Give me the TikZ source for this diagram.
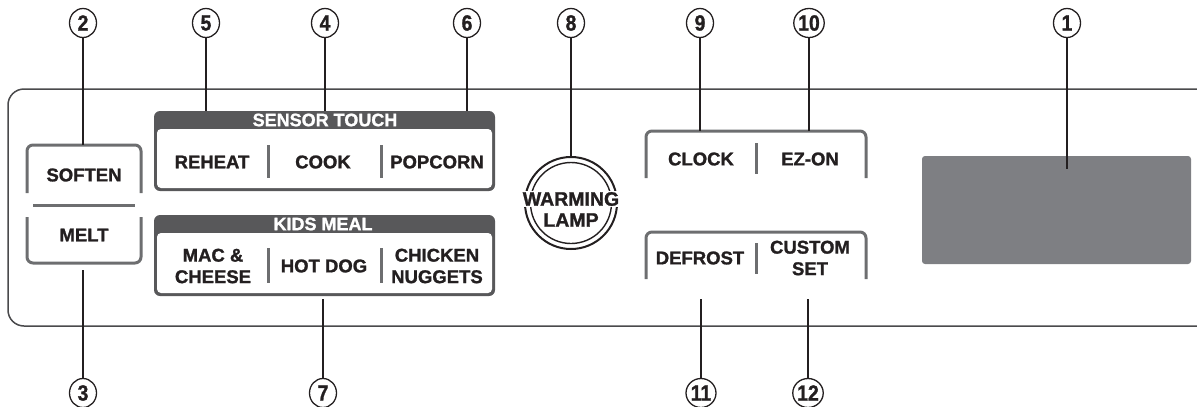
\documentclass[tikz,border=0pt]{standalone}
\usepackage{fontspec}
\setmainfont{Liberation Sans}[BoldFeatures={FakeBold=1.3}]
\newfontfamily\numfont{Liberation Sans Bold}[FakeStretch=0.88, FakeBold=1.2]
\usetikzlibrary{shapes.geometric}
\definecolor{ink}{HTML}{231F20}
\definecolor{hdr}{HTML}{58585A}
\definecolor{brk}{HTML}{6D6E70}
\definecolor{scr}{HTML}{7E7F83}
\definecolor{pan}{HTML}{4A4A4C}
\tikzset{
  num/.style={ellipse, draw=ink, line width=1.3pt, minimum width=27pt, minimum height=29pt, inner sep=0pt, text=ink, font=\fontsize{22}{22}\numfont},
  numw/.style={num, minimum width=30pt},
  lead/.style={draw=ink, line width=1.5pt},
  btn/.style={inner sep=0pt, text=ink, font=\fontsize{18.5}{21.5}\selectfont\bfseries, align=center},
  hdrtext/.style={inner sep=0pt, text=white, font=\fontsize{18}{18}\selectfont\bfseries},
  brkline/.style={draw=brk, line width=3pt},
  panelline/.style={draw=pan, line width=1.5pt}
}
\begin{document}
\begin{tikzpicture}[x=1pt,y=-1pt]
\useasboundingbox (0,0) rectangle (1197,407);
% panel outline
\draw[panelline, rounded corners=16] (1205,89) -- (8,89) -- (8,326) -- (1205,326);
% display
\node[fill=scr, rounded corners=3pt, minimum width=269pt, minimum height=108pt, inner sep=0pt] (disp) at (1056.5,210) {};
% SOFTEN / MELT
\draw[brkline, rounded corners=6] (27,193) -- (27,145) -- (141,145) -- (141,193);
\draw[brkline, rounded corners=6] (27,217) -- (27,263) -- (141,263) -- (141,217);
\draw[brkline] (33,205) -- (135,205);
\node[btn] (soften) at (84,175) {SOFTEN};
\node[btn] (melt) at (84,235) {MELT};
% SENSOR TOUCH box
\fill[hdr, rounded corners=6] (154,111) rectangle (495,191);
\fill[white, rounded corners=4] (157,129) rectangle (492,188);
\node[hdrtext] (st) at (325,120) {SENSOR TOUCH};
\node[btn] (reheat) at (212,162) {REHEAT};
\node[btn] (cook) at (323,162) {COOK};
\node[btn] (popcorn) at (437,162) {POPCORN};
\draw[brkline] (268,145) -- (268,178);
\draw[brkline] (381,145) -- (381,178);
% KIDS MEAL box
\fill[hdr, rounded corners=6] (154,215) rectangle (495,296);
\fill[white, rounded corners=4] (157,233) rectangle (492,293);
\node[hdrtext] (km) at (323,224) {KIDS MEAL};
\node[btn] (mac) at (213,266) {MAC \&\\CHEESE};
\node[btn] (hotdog) at (324,266) {HOT DOG};
\node[btn] (chicken) at (437,266) {CHICKEN\\NUGGETS};
\draw[brkline] (268,248) -- (268,283);
\draw[brkline] (381,248) -- (381,283);
% warming lamp
\node[circle, draw=ink, line width=2pt, minimum size=92pt, inner sep=0pt] (lamp) at (571,203) {};
\node[circle, draw=ink, line width=1.4pt, minimum size=81pt, inner sep=0pt] (lampin) at (571,203) {};
\node[btn, fill=white, inner sep=1.5pt, font=\fontsize{19.5}{21.5}\selectfont\bfseries] (warming) at (571,199) {WARMING};
\node[btn, fill=white, inner sep=1pt, font=\fontsize{19.5}{21.5}\selectfont\bfseries] (lamptxt) at (571,220) {LAMP};
% CLOCK / EZ-ON
\draw[brkline, rounded corners=6] (646,178) -- (646,131) -- (866,131) -- (866,178);
\draw[brkline] (756,143) -- (756,174);
\node[btn] (clock) at (701,159) {CLOCK};
\node[btn] (ezon) at (810,159) {EZ-ON};
% DEFROST / CUSTOM SET
\draw[brkline, rounded corners=6] (646,279) -- (646,232) -- (866,232) -- (866,279);
\draw[brkline] (756,243) -- (756,274);
\node[btn] (defrost) at (700,258) {DEFROST};
\node[btn] (custom) at (810,258) {CUSTOM\\SET};
% callout numbers
\node[num] (c2) at (83,23) {2};
\node[num] (c5) at (206,23) {5};
\node[num] (c4) at (325,23) {4};
\node[num] (c6) at (467,23) {6};
\node[num] (c8) at (571,23) {8};
\node[num] (c9) at (700,23) {9};
\node[numw] (c10) at (809,23) {10};
\node[num] (c1) at (1067,23) {1};
\node[num] (c3) at (83,393) {3};
\node[num] (c7) at (323,393) {7};
\node[numw] (c11) at (701,393) {11};
\node[numw] (c12) at (808,393) {12};
% connector ends
\coordinate (e2) at (83,145);
\coordinate (e5) at (206,111);
\coordinate (e4) at (325,111);
\coordinate (e6) at (467,111);
\coordinate (e9) at (700,131);
\coordinate (e10) at (809,131);
\coordinate (e1) at (1067,169);
\coordinate (s3) at (83,270);
\coordinate (s7) at (323,299);
\coordinate (s11) at (701,299);
\coordinate (s12) at (808,299);
% leaders
\draw[lead] (c2) -- (e2);
\draw[lead] (c5) -- (e5);
\draw[lead] (c4) -- (e4);
\draw[lead] (c6) -- (e6);
\draw[lead] (c8) -- (lamp.north);
\draw[lead] (c9) -- (e9);
\draw[lead] (c10) -- (e10);
\draw[lead] (c1) -- (e1);
\draw[lead] (s3) -- (c3);
\draw[lead] (s7) -- (c7);
\draw[lead] (s11) -- (c11);
\draw[lead] (s12) -- (c12);
\end{tikzpicture}
\end{document}
